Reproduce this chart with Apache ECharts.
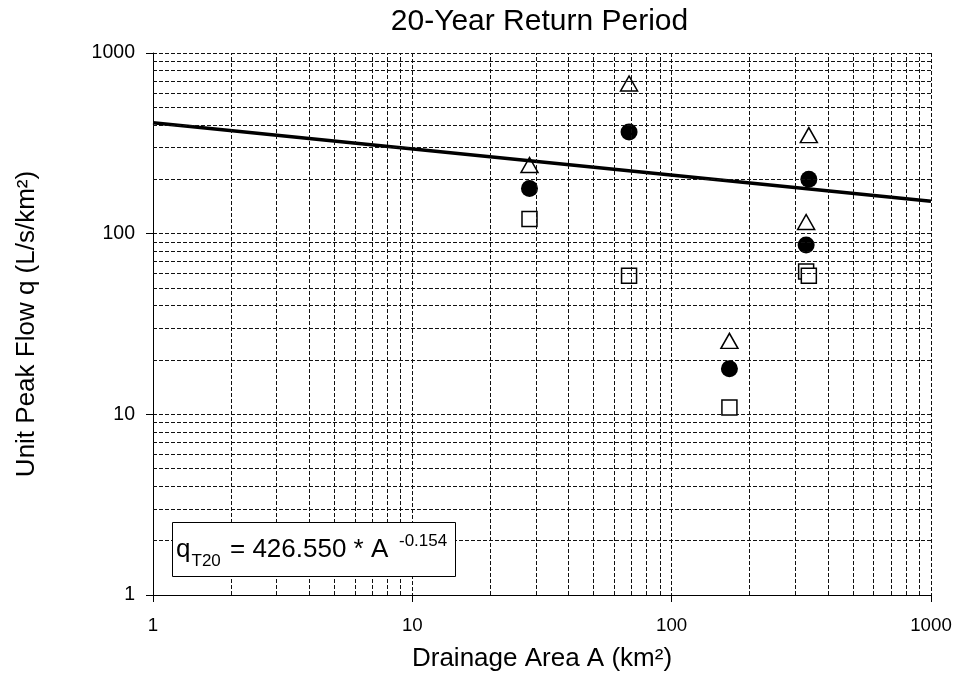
<!DOCTYPE html>
<html>
<head>
<meta charset="utf-8">
<script src="https://cdn.jsdelivr.net/npm/echarts@6/dist/echarts.min.js"></script>
<style>
html,body{margin:0;padding:0;background:#fff;}
#chart{width:957px;height:677px;}
</style>
</head>
<body>
<div id="chart"></div>
<script>
// Drainage areas (km²) of the stations
const area = [28.3, 68.5, 167, 330, 338];
// Upper values (open triangles)
const upperQ = [240, 678, 25.5, 116, 351];
// Central estimates (filled circles)
const meanQ = [178, 365, 17.9, 86.6, 200];
// Lower values (open squares)
const lowerQ = [120.5, 58.4, 10.9, 61.7, 58.4];
// Fitted line endpoints: [A, q]
const fitA = [1, 1000];
const fitQ = [411, 151];
// Tick labels
const xTicks = [1, 10, 100, 1000];
const yTicks = [1, 10, 100, 1000];

const FONT = "'Liberation Sans', Arial, sans-serif";
const gridDash = {color: '#111', width: 1, type: [4, 2]};

function minorValues(ticks) {
  const out = [];
  for (let i = 0; i < ticks.length - 1; i++) {
    for (let m = 2; m <= 9; m++) out.push(ticks[i] * m);
  }
  return out;
}
const xMinor = minorValues(xTicks);
const yMinor = minorValues(yTicks);

function pairs(xs, ys) { return xs.map((x, i) => [x, ys[i]]); }
const plainLabel = v => String(Math.round(v));

const chart = echarts.init(document.getElementById('chart'), null, {renderer: 'canvas'});
const option = {
  animation: false,
  backgroundColor: '#fff',
  textStyle: {fontFamily: FONT},
  grid: {left: 153, right: 26, top: 53, bottom: 81, containLabel: false},
  xAxis: {
    type: 'log', logBase: 10, min: xTicks[0], max: xTicks[xTicks.length - 1],
    name: 'Drainage Area A (km²)', nameLocation: 'middle', nameGap: 51,
    nameTextStyle: {fontSize: 26, color: '#000', fontFamily: FONT},
    axisLine: {show: true, lineStyle: {color: '#000', width: 1}},
    axisTick: {show: true, inside: false, length: 7, lineStyle: {color: '#000'}},
    axisLabel: {fontSize: 18.7, color: '#000', margin: 21, fontFamily: FONT, formatter: plainLabel},
    splitLine: {show: true, lineStyle: gridDash},
    minorTick: {show: false}, minorSplitLine: {show: false}
  },
  yAxis: {
    type: 'log', logBase: 10, min: yTicks[0], max: yTicks[yTicks.length - 1],
    name: 'Unit Peak Flow q (L/s/km²)', nameLocation: 'middle', nameGap: 113,
    nameTextStyle: {fontSize: 26, color: '#000', fontFamily: FONT},
    axisLine: {show: true, lineStyle: {color: '#000', width: 1}},
    axisTick: {show: true, inside: false, length: 7, lineStyle: {color: '#000'}},
    axisLabel: {fontSize: 19.5, color: '#000', margin: 18, fontFamily: FONT, formatter: plainLabel},
    splitLine: {show: true, lineStyle: gridDash},
    minorTick: {show: false}, minorSplitLine: {show: false}
  },
  series: [
    {
      type: 'scatter', name: 'grid', data: [], silent: true, z: 1,
      markLine: {
        silent: true, symbol: ['none', 'none'], label: {show: false},
        lineStyle: gridDash, animation: false,
        data: xMinor.map(v => ({xAxis: v})).concat(yMinor.map(v => ({yAxis: v})))
      }
    },
    {
      type: 'scatter', name: 'lower', z: 3,
      data: pairs(area, lowerQ), symbol: 'rect', symbolSize: 15,
      itemStyle: {color: '#fff', borderColor: '#000', borderWidth: 1.5, opacity: 1}
    },
    {
      type: 'scatter', name: 'upper', z: 3,
      data: pairs(area, upperQ), symbol: 'triangle', symbolSize: [17, 15],
      itemStyle: {color: '#fff', borderColor: '#000', borderWidth: 1.5, opacity: 1}
    },
    {
      type: 'scatter', name: 'mean', z: 3,
      data: pairs(area, meanQ), symbol: 'circle', symbolSize: 17,
      itemStyle: {color: '#000', borderColor: '#000', borderWidth: 0, opacity: 1}
    },
    {
      type: 'line', name: 'fit', z: 4,
      data: pairs(fitA, fitQ), showSymbol: false, symbol: 'none',
      lineStyle: {color: '#000', width: 3.5}
    }
  ],
  graphic: [
    {
      type: 'text', x: 539.5, y: 22, z: 10,
      style: {text: '20-Year Return Period', fontSize: 30, fontFamily: FONT, fill: '#000',
              textAlign: 'center', textVerticalAlign: 'middle'}
    },
    {
      type: 'rect', z: 10,
      shape: {x: 172.5, y: 522.5, width: 283, height: 54},
      style: {fill: '#fff', stroke: '#000', lineWidth: 1}
    },
    {
      type: 'text', x: 176, y: 550, z: 11,
      style: {text: 'q', fontSize: 26, fontFamily: FONT, fill: '#000', textAlign: 'left', textVerticalAlign: 'middle'}
    },
    {
      type: 'text', x: 191.5, y: 561.5, z: 11,
      style: {text: 'T20', fontSize: 17, fontFamily: FONT, fill: '#000', textAlign: 'left', textVerticalAlign: 'middle'}
    },
    {
      type: 'text', x: 230, y: 550, z: 11,
      style: {text: '= 426.550 * A', fontSize: 26, fontFamily: FONT, fill: '#000', textAlign: 'left', textVerticalAlign: 'middle'}
    },
    {
      type: 'text', x: 399, y: 541, z: 11,
      style: {text: '-0.154', fontSize: 17, fontFamily: FONT, fill: '#000', textAlign: 'left', textVerticalAlign: 'middle'}
    }
  ]
};
chart.setOption(option);
</script>
</body>
</html>
